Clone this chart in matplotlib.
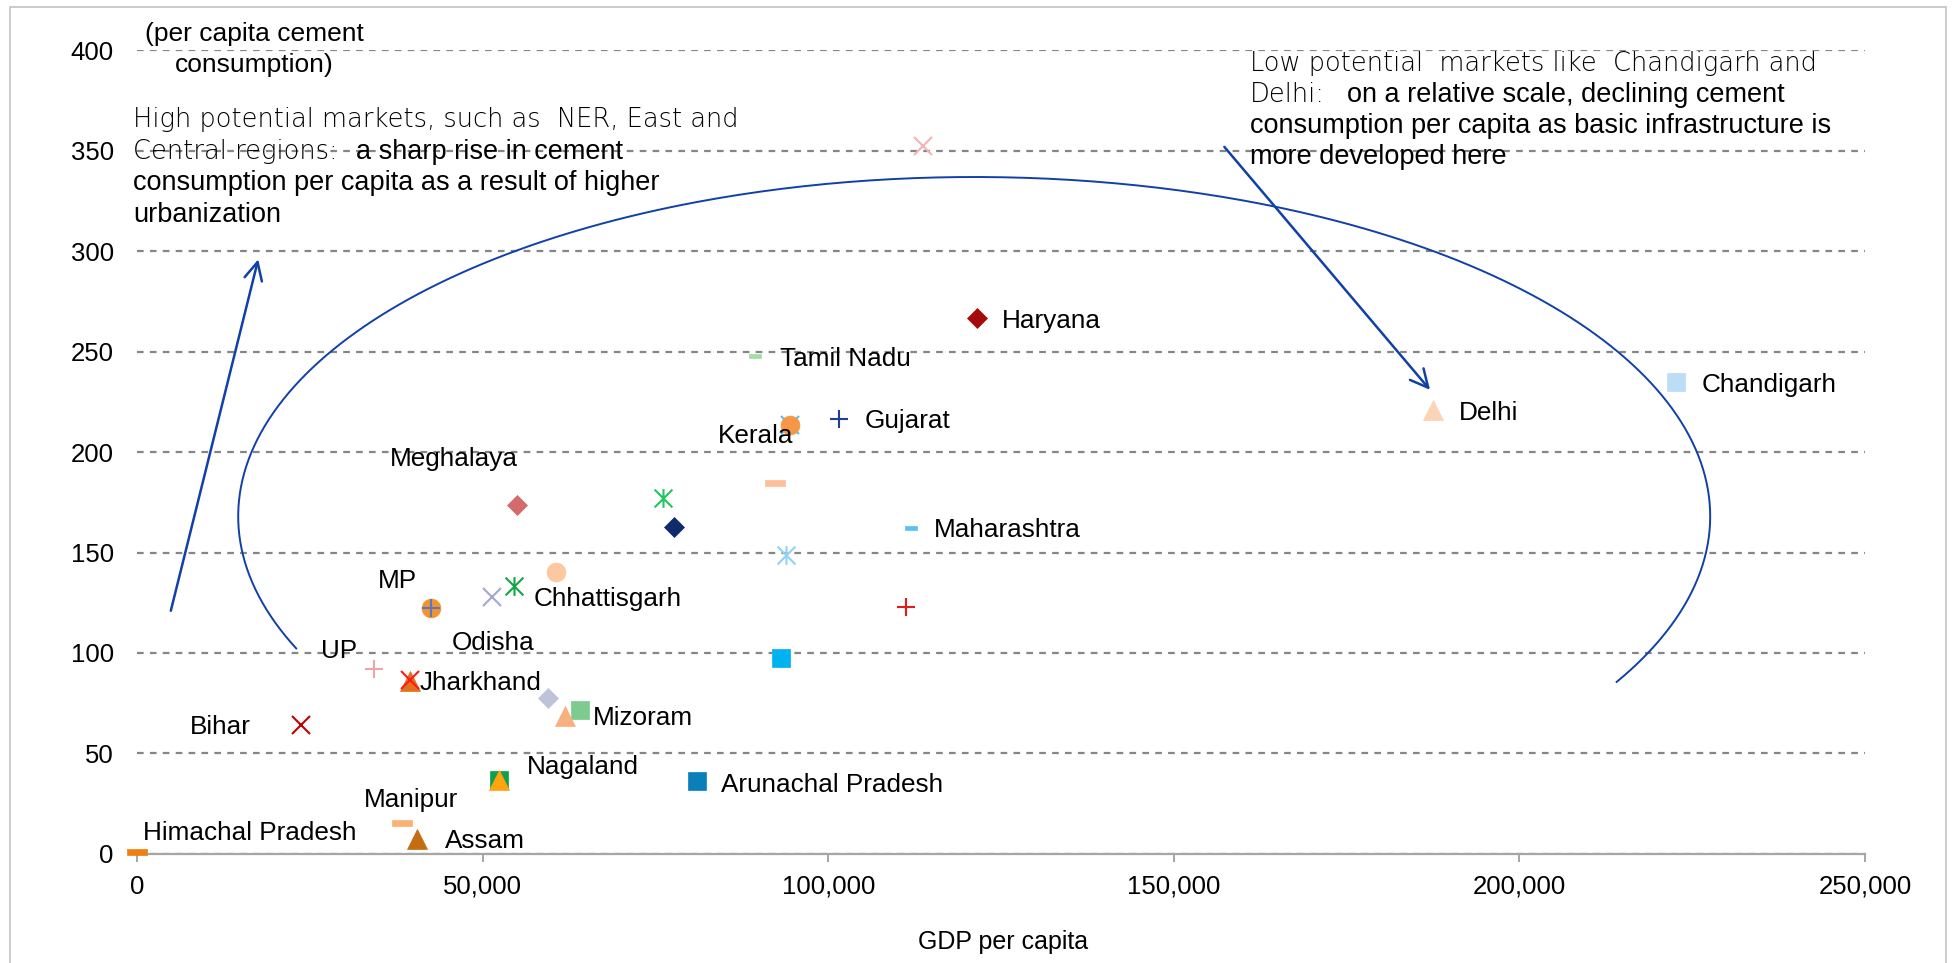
import matplotlib
matplotlib.use('Agg')
import matplotlib.pyplot as plt
from matplotlib.path import Path
from matplotlib.patches import Rectangle
from matplotlib.ticker import FuncFormatter
import numpy as np

# ---------------- data ----------------
states = ['', 'Haryana', 'Tamil Nadu', 'Kerala', 'Gujarat', 'Delhi', 'Chandigarh',
          'Meghalaya', '', '', '', 'Maharashtra', '', '', 'Chhattisgarh', 'Odisha',
          'MP', '', '', '', 'UP', '', 'Jharkhand', '', '', 'Mizoram', 'Bihar',
          '', 'Nagaland', 'Arunachal Pradesh', 'Manipur', 'Assam', 'Himachal Pradesh', '']
gdp_per_capita = [94500, 121500, 89450, 94500, 101500, 187480, 222580,
                  54880, 76080, 92280, 77600, 111950, 93800, 60530, 54520, 51290,
                  42500, 42500, 111280, 93200, 34240, 39470, 39470, 59430, 64020, 61820, 23640,
                  52390, 52390, 80920, 38240, 40500, 0, 113700]
cement_per_capita = [213.7, 266.6, 247.8, 213.7, 216.7, 220.8, 234.7,
                     173.8, 177.2, 184.7, 162.7, 162.4, 148.8, 140.5, 133.4, 127.6,
                     122.6, 122.6, 122.9, 97.3, 92.2, 85.9, 86.3, 77.4, 71.6, 68.7, 64.1,
                     36.5, 36.5, 36.4, 15.1, 7.5, 0.8, 352.5]
x_ticks = [0, 50000, 100000, 150000, 200000, 250000]
y_ticks = [0, 50, 100, 150, 200, 250, 300, 350, 400]

# ---------------- styles ----------------
marker_kind = ['x', 'D', 'dash_s', 'o', '+', '^', 's',
               'D', 'ast', 'dash', 'D', 'dash_s', 'ast', 'o', 'ast', 'x',
               'o', '+', '+', 's', '+', '^', 'x', 'D', 's', '^', 'x',
               's', '^', 's', 'dash', '^', 'dash', 'x']
marker_color = ['#4fc3f0', '#a50a0a', '#a6dca6', '#f79646', '#1f3d99', '#fcd3b6', '#bddcf6',
                '#d36b6b', '#22c55e', '#fbbf99', '#0f2b69', '#5ec0f2', '#92d2f8', '#fcc8a2', '#12a545', '#a3a7d2',
                '#f29331', '#5a78c0', '#e41b1b', '#00b2f0', '#f2a3a9', '#e2711d', '#ff1a1a', '#bfc3da', '#7dcb8e',
                '#f9b07f', '#c00000', '#0f9f4f', '#ffa30f', '#0b7fba', '#f9b271', '#c46c12', '#ef7f10', '#f5b3b3']

# label offsets in pixels (dx, dy of cap-centre from point, y up), alignment
label_offset = {
    'Haryana': (25, 0, 'left'), 'Tamil Nadu': (25, 0, 'left'), 'Kerala': (3, -9, 'right'),
    'Gujarat': (26, 0, 'left'), 'Delhi': (26, 0, 'left'), 'Chandigarh': (26, 0, 'left'),
    'Meghalaya': (1, 48, 'right'), 'Maharashtra': (23, 0, 'left'),
    'Chhattisgarh': (20, -11, 'left'), 'Odisha': (1, -43, 'center'), 'MP': (-14, 29, 'right'),
    'UP': (-17, 20, 'right'), 'Jharkhand': (10, 0, 'left'), 'Mizoram': (28, 0, 'left'),
    'Bihar': (-50, 0, 'right'), 'Nagaland': (28, 16, 'left'),
    'Arunachal Pradesh': (24, -2, 'left'), 'Manipur': (9, 26, 'center'),
    'Assam': (28, 0, 'left'), 'Himachal Pradesh': (6, 22, 'left'),
}

plt.rcParams['font.family'] = ['Liberation Sans', 'DejaVu Sans']
plt.rcParams['font.size'] = 18

W, H = 1957, 963
fig = plt.figure(figsize=(W / 100, H / 100), dpi=100)
L, R, T, B = 137.3, 1865, 50.5, 853.7
ax = fig.add_axes([L / W, 1 - B / H, (R - L) / W, (B - T) / H])
ax.set_xlim(0, 250000)
ax.set_ylim(0, 400)

# outer chart frame
fig.patches.append(Rectangle((10 / W, -0.02), (1946 - 10) / W, (H - 7) / H + 0.02,
                             transform=fig.transFigure, fill=False,
                             edgecolor='#bdbdbd', linewidth=1.1))

# axes style
for s in ['top', 'right', 'left']:
    ax.spines[s].set_visible(False)
ax.spines['bottom'].set_color('#a6a6a6')
ax.spines['bottom'].set_linewidth(1.6)
ax.spines['bottom'].set_zorder(1)
ax.set_xticks(x_ticks)
ax.set_yticks(y_ticks)
ax.xaxis.set_major_formatter(FuncFormatter(lambda v, p: f'{int(v):,}'))
ax.tick_params(axis='x', direction='out', length=6, width=1.4, color='#a6a6a6',
               pad=9, labelsize=18.5)
ax.tick_params(axis='y', length=0, pad=17, labelsize=18.5)
ax.yaxis.grid(True, color='#868686', linewidth=1.6, linestyle=(0, (3.0, 2.8)))
ax.set_axisbelow(True)

# markers
MOVE, LINE, CLOSE = Path.MOVETO, Path.LINETO, Path.CLOSEPOLY
ast_path = Path([(0, -1), (0, 1), (-0.95, -0.95), (0.95, 0.95), (-0.95, 0.95), (0.95, -0.95)],
                [MOVE, LINE, MOVE, LINE, MOVE, LINE])
dash_path = Path([(-1, -0.3), (1, -0.3), (1, 0.3), (-1, 0.3), (-1, -0.3)],
                 [MOVE, LINE, LINE, LINE, CLOSE])
dash_s_path = Path([(-1, -0.42), (1, -0.42), (1, 0.42), (-1, 0.42), (-1, -0.42)],
                   [MOVE, LINE, LINE, LINE, CLOSE])
mstyle = {
    'D': dict(marker='D', ms=10.2, filled=True),
    's': dict(marker='s', ms=13.6, filled=True),
    'o': dict(marker='o', ms=13.6, filled=True),
    '^': dict(marker='^', ms=14, filled=True),
    '+': dict(marker='+', ms=13, filled=False),
    'x': dict(marker='x', ms=13.5, filled=False),
    'ast': dict(marker=ast_path, ms=13.5, filled=False),
    'dash': dict(marker=dash_path, ms=14.2, filled=True),
    'dash_s': dict(marker=dash_s_path, ms=8.3, filled=True),
}
for i, (xv, yv) in enumerate(zip(gdp_per_capita, cement_per_capita)):
    st = mstyle[marker_kind[i]]
    c = marker_color[i]
    if st['filled']:
        ax.plot([xv], [yv], linestyle='none', marker=st['marker'], ms=st['ms'],
                mfc=c, mec=c, mew=0.5, clip_on=False, zorder=3)
    else:
        ax.plot([xv], [yv], linestyle='none', marker=st['marker'], ms=st['ms'],
                mfc='none', mec=c, mew=1.5, clip_on=False, zorder=3)

# data labels
for name, xv, yv in zip(states, gdp_per_capita, cement_per_capita):
    if not name:
        continue
    dx, dy, ha = label_offset[name]
    ax.annotate(name, xy=(xv, yv), xytext=(dx, dy - 9.5), textcoords='offset pixels',
                ha=ha, va='baseline', fontsize=18.8, color='black', zorder=5,
                annotation_clip=False)

# axis titles
ax.text(16900, 404.8, '(per capita cement', ha='center', va='baseline', fontsize=19)
ax.text(16900, 389.4, 'consumption)', ha='center', va='baseline', fontsize=19)
fig.text(1003 / W, 1 - 942 / H, 'GDP per capita', ha='center', va='center', fontsize=18)

# annotation texts
renderer = fig.canvas.get_renderer()
LIGHT = dict(family=['DejaVu Sans'], fontsize=18.5, color='#000000', fontweight=200)
DARK = dict(fontsize=19.5, color='black')


def rich_line(x, y, pieces):
    offset = 0.0
    for item in pieces:
        if isinstance(item, (int, float)):
            offset += item
            continue
        txt, st = item
        t = ax.annotate(txt, xy=(x, y), xycoords='data', xytext=(offset, 0),
                        textcoords='offset pixels', ha='left', va='baseline',
                        annotation_clip=False, zorder=5, **st)
        offset += t.get_window_extent(renderer).width


left_x, left_base, step = -550, 361.8, 15.75
rich_line(left_x, left_base, [('High potential markets, such as  NER, East and', LIGHT)])
rich_line(left_x, left_base - step, [('Central regions:', LIGHT), 18, ('a sharp rise in cement', DARK)])
rich_line(left_x, left_base - 2 * step, [('consumption per capita as a result of higher', DARK)])
rich_line(left_x, left_base - 3 * step, [('urbanization', DARK)])

right_x, right_base, rstep = 160950, 389.9, 15.5
rich_line(right_x, right_base, [('Low potential  markets like  Chandigarh and', LIGHT)])
rich_line(right_x, right_base - rstep, [('Delhi:', LIGHT), 22, ('on a relative scale, declining cement', DARK)])
rich_line(right_x, right_base - 2 * rstep, [('consumption per capita as basic infrastructure is', DARK)])
rich_line(right_x, right_base - 3 * rstep, [('more developed here', DARK)])

# arrows and arc
BLUE = '#1040a8'
arrow_props = dict(arrowstyle='->, head_length=0.4, head_width=0.2', color=BLUE, lw=1.8,
                   mutation_scale=32, shrinkA=0, shrinkB=0)
ax.annotate('', xy=(17500, 296), xytext=(4850, 121), arrowprops=arrow_props,
            annotation_clip=False)
ax.annotate('', xy=(187060, 231), xytext=(157300, 352), arrowprops=arrow_props,
            annotation_clip=False)

arc_cx, arc_cy, arc_a, arc_b = 121100, 168, 106500, 169
theta = np.radians(np.linspace(-29.2, 202.9, 400))
ax.plot(arc_cx + arc_a * np.cos(theta), arc_cy + arc_b * np.sin(theta),
        color=BLUE, lw=1.4, clip_on=False, zorder=4)

fig.savefig('out.png', dpi=100)
